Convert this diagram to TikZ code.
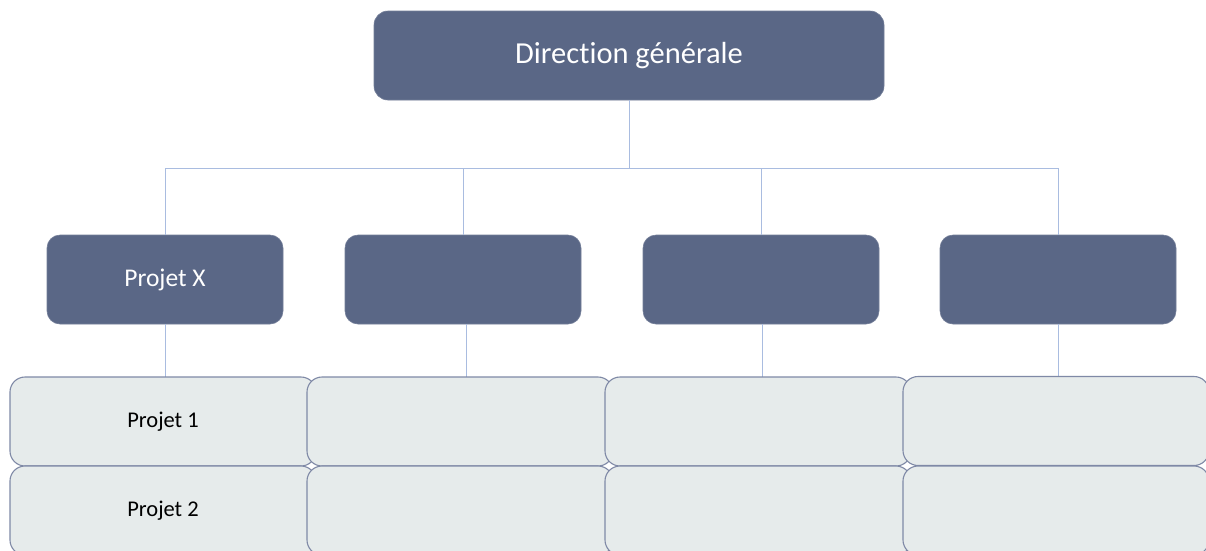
\documentclass[tikz,border=0pt]{standalone}
\usepackage{fontspec}
\setmainfont[Ligatures={NoCommon}]{Carlito}
\definecolor{darkbox}{HTML}{5A6786}
\definecolor{lightbox}{HTML}{E6EBEB}
\definecolor{lightedge}{HTML}{7F89A6}
\definecolor{linkc}{HTML}{A9BCE0}
\begin{document}
\begin{tikzpicture}[x=1pt,y=-1pt,
  topbox/.style={draw=darkbox!85!white,line width=0.6pt,fill=darkbox,rounded corners=14pt,minimum width=510pt,minimum height=89pt,inner sep=0pt,text=white,font=\fontsize{30.5}{34}\selectfont},
  midbox/.style={draw=darkbox!85!white,line width=0.6pt,fill=darkbox,rounded corners=13pt,minimum width=236pt,minimum height=89pt,inner sep=0pt,text=white,font=\fontsize{25.5}{29}\selectfont},
  lowbox/.style={draw=lightedge,line width=1.1pt,fill=lightbox,rounded corners=15pt,minimum width=306pt,minimum height=89pt,inner sep=0pt,text=black,font=\fontsize{22.5}{26}\selectfont},
  link/.style={draw=linkc,line width=0.8pt}]
\useasboundingbox (0,0) rectangle (1206,550);
\clip (0,0) rectangle (1206,550);
\fill[white] (0,0) rectangle (1206,550);
% links
\node[topbox] (top) at (629,55.5) {Direction générale};
\coordinate (j) at (629,168);
\node[midbox] (m1) at (165,279.5) {Projet X};
\node[midbox] (m2) at (463,279.5) {};
\node[midbox] (m3) at (761,279.5) {};
\node[midbox] (m4) at (1058,279.5) {};
\coordinate (h1) at (165,168);
\coordinate (h2) at (463,168);
\coordinate (h3) at (761,168);
\coordinate (h4) at (1058,168);
\draw[link] (top.south) -- (j);
\draw[link] (h1) -- (h4);
\draw[link] (h1) -- (m1.north);
\draw[link] (h2) -- (m2.north);
\draw[link] (h3) -- (m3.north);
\draw[link] (h4) -- (m4.north);
\coordinate (b1) at (165,377);
\coordinate (b2) at (466,377);
\coordinate (b3) at (762,377);
\coordinate (b4) at (1058,377);
\draw[link] (m1.south) -- (b1);
\draw[link] (466,324) -- (b2);
\draw[link] (762,324) -- (b3);
\draw[link] (m4.south) -- (b4);
% lower boxes
\node[lowbox] (a1) at (163,421.5) {Projet 1};
\node[lowbox] (a2) at (460,421.5) {};
\node[lowbox] (a3) at (758,421.5) {};
\node[lowbox] (a4) at (1056,421) {};
\node[lowbox] (c1) at (163,510.5) {Projet 2};
\node[lowbox] (c2) at (460,510.5) {};
\node[lowbox] (c3) at (758,510.5) {};
\node[lowbox] (c4) at (1056,510.5) {};
\end{tikzpicture}
\end{document}
